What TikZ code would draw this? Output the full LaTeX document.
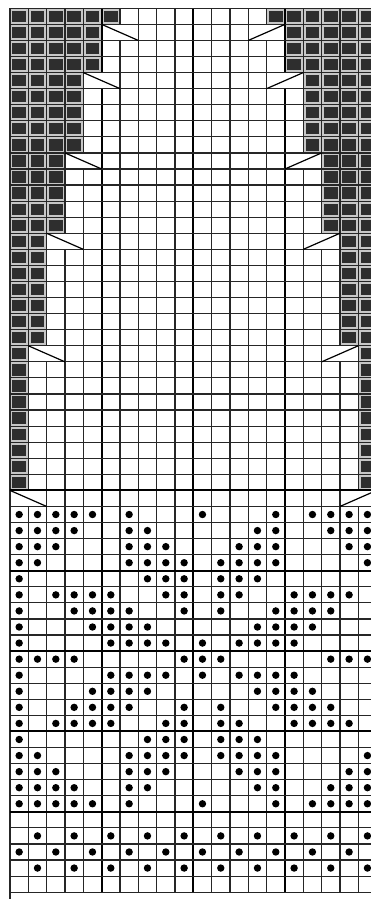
\documentclass[tikz,border=0pt]{standalone}
\begin{document}
\begin{tikzpicture}[x=1pt,y=-1pt,
  thinline/.style={line width=1.15pt, draw=black!85},
  thickline/.style={line width=2pt, draw=black},
  framefill/.style={fill=black!22},
  darkfill/.style={fill=black!82},
  decline/.style={line width=1.2pt, draw=black},
  stitchdot/.style={fill=black}]
\def\cw{18.33}\def\rh{16.07}\def\xo{10}\def\yo{8.3}
\useasboundingbox (0,0) rectangle (371,899);
\clip (0,0) rectangle (371,899);
\fill[white] (0,0) rectangle (371,899);
% frames of the dark (no-stitch) cells
\foreach \r/\L in {0/6,1/5,2/5,3/5,4/4,5/4,6/4,7/4,8/4,9/3,10/3,11/3,12/3,13/3,14/2,15/2,16/2,17/2,18/2,19/2,20/2,21/1,22/1,23/1,24/1,25/1,26/1,27/1,28/1,29/1}{
  \foreach \c in {1,...,\L}{
    \fill[framefill] ({\xo+(\c-1)*\cw},{\yo+\r*\rh}) rectangle +(\cw,\rh);
    \fill[framefill] ({\xo+(20-\c)*\cw},{\yo+\r*\rh}) rectangle +(\cw,\rh);
  }
}
% vertical grid lines
\foreach \b in {0,...,20}{
  \draw[thinline] ({\xo+\b*\cw},\yo) -- ({\xo+\b*\cw},{\yo+55*\rh});
}
\foreach \b in {5,10,15}{
  \draw[thickline] ({\xo+\b*\cw},\yo) -- ({\xo+\b*\cw},{\yo+55*\rh});
}
\draw[thinline] (\xo,{\yo+55*\rh}) -- (\xo,899);
% merged decrease cells: remove inner line
\foreach \r/\b in {1/6,4/5,9/4,14/3,21/2,30/1,1/14,4/15,9/16,14/17,21/18,30/19}{
  \fill[white] ({\xo+\b*\cw-1.6},{\yo+\r*\rh}) rectangle ({\xo+\b*\cw+1.6},{\yo+(\r+1)*\rh});
}
% horizontal grid lines
\foreach \r in {0,...,55}{
  \draw[thinline] (\xo,{\yo+\r*\rh}) -- ({\xo+20*\cw},{\yo+\r*\rh});
}
\foreach \r in {30,35,40,45,50}{
  \draw[thickline] (\xo,{\yo+\r*\rh}) -- ({\xo+20*\cw},{\yo+\r*\rh});
}
% dark cells
\foreach \r/\L in {0/6,1/5,2/5,3/5,4/4,5/4,6/4,7/4,8/4,9/3,10/3,11/3,12/3,13/3,14/2,15/2,16/2,17/2,18/2,19/2,20/2,21/1,22/1,23/1,24/1,25/1,26/1,27/1,28/1,29/1}{
  \foreach \c in {1,...,\L}{
    \fill[darkfill] ({\xo+(\c-1)*\cw+2.4},{\yo+\r*\rh+2.4}) rectangle +({\cw-4.8},{\rh-4.8});
    \fill[darkfill] ({\xo+(20-\c)*\cw+2.4},{\yo+\r*\rh+2.4}) rectangle +({\cw-4.8},{\rh-4.8});
  }
}
% decrease lines
\foreach \r/\L in {1/5,4/4,9/3,14/2,21/1,30/0}{
  \draw[decline] ({\xo+\L*\cw},{\yo+\r*\rh}) -- ({\xo+(\L+2)*\cw},{\yo+(\r+1)*\rh});
  \draw[decline] ({\xo+(20-\L)*\cw},{\yo+\r*\rh}) -- ({\xo+(18-\L)*\cw},{\yo+(\r+1)*\rh});
}
% dots
\foreach \r/\cols in {
  31/{0,1,2,3,4,6,10,14,16,17,18,19},
  32/{0,1,2,3,6,7,13,14,17,18,19},
  33/{0,1,2,6,7,8,12,13,14,18,19},
  34/{0,1,6,7,8,9,11,12,13,14,19},
  35/{0,7,8,9,11,12,13},
  36/{0,2,3,4,5,8,9,11,12,15,16,17,18},
  37/{0,3,4,5,6,9,11,14,15,16,17},
  38/{0,4,5,6,7,13,14,15,16},
  39/{0,5,6,7,8,10,12,13,14,15},
  40/{0,1,2,3,9,10,11,17,18,19},
  41/{0,5,6,7,8,10,12,13,14,15},
  42/{0,4,5,6,7,13,14,15,16},
  43/{0,3,4,5,6,9,11,14,15,16,17},
  44/{0,2,3,4,5,8,9,11,12,15,16,17,18},
  45/{0,7,8,9,11,12,13},
  46/{0,1,6,7,8,9,11,12,13,14,19},
  47/{0,1,2,6,7,8,12,13,14,18,19},
  48/{0,1,2,3,6,7,13,14,17,18,19},
  49/{0,1,2,3,4,6,10,14,16,17,18,19},
  51/{1,3,5,7,9,11,13,15,17,19},
  52/{0,2,4,6,8,10,12,14,16,18},
  53/{1,3,5,7,9,11,13,15,17,19}}{
  \foreach \c in \cols{
    \fill[stitchdot] ({\xo+(\c+0.5)*\cw},{\yo+(\r+0.5)*\rh}) circle (3.7pt);
  }
}
\end{tikzpicture}
\end{document}
